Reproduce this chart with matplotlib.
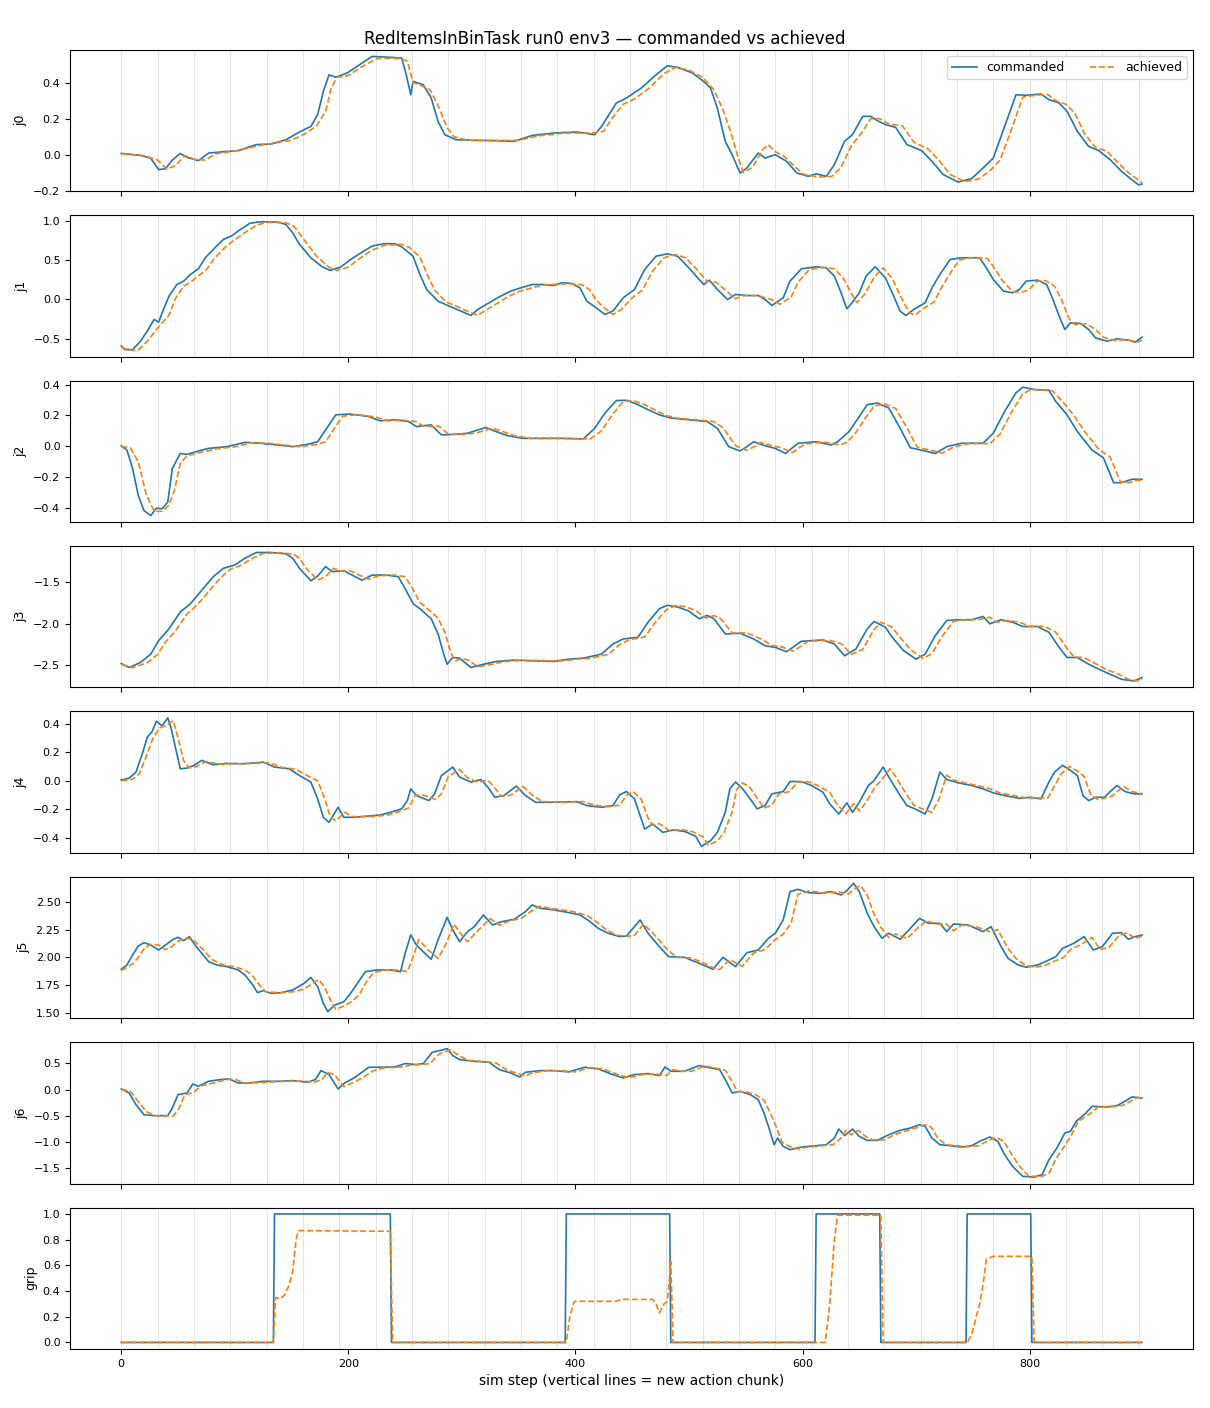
import matplotlib
matplotlib.use("Agg")
import matplotlib.pyplot as plt

# (step, value) pairs, commanded vs achieved per joint
j0_cmd = [(0,0.007),(17,-0.004),(26,-0.02),(33,-0.083),(39,-0.078),(45,-0.03),(52,0.007),(58,-0.015),(68,-0.033),(77,0.009),
          (93,0.018),(103,0.022),(119,0.056),(132,0.059),(145,0.083),(157,0.126),(167,0.157),(173,0.222),(178,0.352),(183,0.444),
          (189,0.43),(199,0.454),(209,0.496),(221,0.546),(237,0.541),(247,0.537),(251,0.444),(255,0.333),(257,0.407),(266,0.389),
          (273,0.315),(279,0.185),(285,0.111),(295,0.083),(311,0.08),(330,0.078),(346,0.074),(362,0.107),(381,0.12),(401,0.126),
          (417,0.111),(423,0.157),(436,0.287),(445,0.315),(458,0.37),(471,0.444),(481,0.494),(490,0.485),(503,0.454),(513,0.407),
          (519,0.37),(525,0.259),(532,0.074),(538,0.0),(545,-0.102),(551,-0.074),(561,0.009),(567,-0.019),(576,0.0),(586,-0.037),
          (595,-0.102),(605,-0.12),(612,-0.107),(621,-0.12),(628,-0.056),(637,0.074),(644,0.111),(653,0.213),(660,0.213),(666,0.189),
          (673,0.167),(682,0.152),(692,0.056),(705,0.022),(714,-0.037),(724,-0.111),(737,-0.152),(749,-0.133),(759,-0.074),(768,-0.019),
          (778,0.157),(788,0.333),(797,0.33),(810,0.337),(817,0.306),(826,0.287),(833,0.241),(842,0.13),(852,0.046),(861,0.022),
          (871,-0.028),(881,-0.093),(890,-0.139),(896,-0.168),(899,-0.163)]
j0_ach = [(0,0.005),(20,-0.005),(32,-0.03),(40,-0.08),(48,-0.06),(56,-0.005),(64,-0.025),(74,-0.03),(83,0.005),(100,0.02),
          (125,0.055),(150,0.08),(163,0.12),(172,0.16),(180,0.24),(185,0.37),(190,0.43),(200,0.44),(212,0.49),(226,0.535),
          (245,0.535),(252,0.52),(257,0.4),(262,0.39),(272,0.36),(280,0.26),(287,0.15),(293,0.1),(305,0.08),(330,0.078),
          (350,0.08),(368,0.105),(390,0.12),(415,0.12),(425,0.13),(432,0.2),(442,0.28),(452,0.31),(465,0.37),(478,0.45),
          (488,0.485),(500,0.47),(512,0.43),(522,0.36),(530,0.25),(537,0.12),(544,-0.03),(548,-0.1),(556,-0.07),(565,0.03),
          (570,0.055),(575,0.02),(584,-0.01),(592,-0.06),(601,-0.11),(615,-0.125),(626,-0.12),(634,-0.07),(643,0.05),(652,0.12),
          (660,0.2),(668,0.2),(676,0.17),(688,0.16),(698,0.07),(711,0.03),(720,-0.03),(730,-0.11),(743,-0.15),(755,-0.135),
          (765,-0.09),(774,-0.03),(784,0.14),(794,0.32),(805,0.33),(816,0.335),(823,0.3),(832,0.28),(840,0.23),(848,0.12),
          (858,0.04),(868,0.02),(877,-0.04),(887,-0.1),(899,-0.155)]

j1_cmd = [(0,-0.59),(3,-0.636),(10,-0.636),(17,-0.53),(23,-0.40),(29,-0.254),(33,-0.288),(36,-0.17),(42,0.04),(49,0.19),
          (55,0.233),(61,0.318),(68,0.39),(74,0.53),(84,0.678),(90,0.763),(97,0.805),(103,0.869),(113,0.966),(122,0.987),
          (138,0.983),(145,0.953),(151,0.847),(157,0.70),(167,0.53),(177,0.415),(184,0.369),(193,0.41),(202,0.508),(212,0.60),
          (221,0.678),(231,0.708),(241,0.708),(247,0.669),(257,0.55),(263,0.318),(269,0.127),(279,-0.021),(289,-0.085),(298,-0.14),
          (308,-0.203),(314,-0.127),(324,-0.042),(333,0.034),(343,0.106),(352,0.148),(362,0.19),(372,0.19),(381,0.178),(388,0.212),
          (397,0.203),(404,0.148),(410,-0.021),(417,-0.093),(426,-0.19),(433,-0.148),(442,0.021),(452,0.127),(461,0.38),(471,0.55),
          (481,0.58),(490,0.55),(500,0.40),(509,0.254),(513,0.19),(518,0.246),(525,0.127),(534,0.0),(541,0.064),(551,0.05),
          (561,0.05),(567,0.0),(573,-0.076),(583,0.021),(589,0.233),(599,0.39),(612,0.415),(621,0.40),(628,0.297),(634,0.085),
          (639,-0.119),(644,-0.034),(650,0.085),(656,0.297),(664,0.415),(673,0.275),(679,0.085),(686,-0.148),(691,-0.203),(698,-0.127),
          (708,-0.042),(714,0.148),(721,0.318),(730,0.508),(740,0.53),(756,0.53),(762,0.40),(768,0.254),(777,0.106),(785,0.085),
          (791,0.127),(797,0.233),(807,0.246),(815,0.19),(820,0.021),(826,-0.212),(831,-0.381),(836,-0.297),(845,-0.305),(852,-0.381),
          (858,-0.487),(868,-0.53),(877,-0.50),(887,-0.517),(893,-0.542),(899,-0.479)]
j1_ach = [(0,-0.6),(6,-0.645),(15,-0.64),(23,-0.53),(30,-0.40),(37,-0.28),(42,-0.2),(48,0.02),(55,0.17),(62,0.23),
          (68,0.3),(75,0.38),(82,0.52),(92,0.67),(100,0.76),(110,0.86),(120,0.95),(130,0.98),(145,0.975),(152,0.93),
          (160,0.78),(172,0.55),(183,0.41),(190,0.37),(200,0.41),(208,0.5),(220,0.62),(232,0.69),(247,0.7),(254,0.66),
          (263,0.54),(270,0.3),(276,0.12),(286,-0.03),(296,-0.09),(305,-0.15),(314,-0.2),(322,-0.13),(331,-0.05),(340,0.03),
          (350,0.1),(360,0.14),(370,0.18),(380,0.19),(394,0.2),(405,0.19),(412,0.13),(418,0.0),(424,-0.09),(433,-0.19),
          (440,-0.13),(450,0.02),(459,0.12),(468,0.36),(478,0.53),(488,0.57),(497,0.53),(507,0.38),(516,0.23),(524,0.22),
          (532,0.12),(541,0.01),(548,0.05),(560,0.05),(573,0.0),(580,-0.06),(590,0.03),(596,0.22),(606,0.38),(618,0.41),
          (628,0.39),(636,0.27),(644,0.05),(648,-0.04),(655,0.07),(663,0.28),(671,0.4),(679,0.27),(686,0.05),(694,-0.17),
          (699,-0.2),(706,-0.12),(716,-0.03),(722,0.14),(729,0.31),(738,0.5),(748,0.53),(763,0.52),(770,0.38),(776,0.24),
          (785,0.1),(793,0.09),(800,0.13),(806,0.23),(814,0.24),(822,0.17),(828,0.0),(835,-0.25),(840,-0.32),(850,-0.31),
          (858,-0.38),(865,-0.48),(875,-0.52),(885,-0.51),(895,-0.54),(899,-0.52)]

j2_cmd = [(0,0.004),(5,-0.024),(10,-0.143),(15,-0.317),(20,-0.415),(26,-0.448),(31,-0.40),(36,-0.404),(41,-0.36),(45,-0.143),
          (52,-0.046),(58,-0.052),(68,-0.03),(77,-0.013),(93,-0.002),(109,0.026),(122,0.02),(138,0.009),(151,-0.002),(164,0.013),
          (173,0.03),(183,0.139),(189,0.204),(202,0.209),(218,0.193),(228,0.165),(241,0.172),(253,0.161),(260,0.128),(273,0.139),
          (282,0.074),(295,0.078),(305,0.085),(321,0.122),(330,0.096),(340,0.07),(353,0.052),(369,0.052),(388,0.052),(407,0.048),
          (417,0.117),(426,0.215),(436,0.296),(445,0.298),(455,0.27),(464,0.237),(474,0.204),(484,0.183),(500,0.172),(516,0.161),
          (525,0.117),(535,-0.002),(545,-0.03),(551,-0.002),(557,0.03),(567,0.004),(576,-0.013),(585,-0.046),(596,0.02),(612,0.03),
          (625,0.009),(631,0.03),(641,0.096),(650,0.193),(657,0.27),(666,0.28),(676,0.248),(686,0.117),(695,-0.009),(708,-0.03),
          (717,-0.046),(727,-0.002),(740,0.02),(759,0.02),(768,0.085),(778,0.226),(788,0.346),(794,0.383),(804,0.367),(817,0.363),
          (823,0.291),(833,0.204),(842,0.096),(855,-0.024),(865,-0.074),(874,-0.235),(881,-0.235),(890,-0.213),(899,-0.213)]
j2_ach = [(0,0.0),(8,-0.01),(15,-0.1),(22,-0.31),(29,-0.42),(36,-0.42),(42,-0.38),(47,-0.28),(52,-0.11),(58,-0.06),
          (72,-0.035),(85,-0.015),(100,-0.003),(115,0.024),(130,0.02),(145,0.007),(158,-0.002),(172,0.012),(180,0.03),(188,0.12),
          (195,0.195),(208,0.205),(224,0.19),(235,0.165),(248,0.17),(260,0.16),(266,0.13),(280,0.13),(288,0.08),(301,0.078),
          (312,0.085),(327,0.118),(336,0.096),(346,0.07),(360,0.052),(390,0.05),(413,0.048),(423,0.1),(432,0.2),(442,0.29),
          (451,0.295),(461,0.27),(470,0.235),(480,0.2),(490,0.182),(506,0.172),(522,0.16),(530,0.12),(541,0.005),(550,-0.025),
          (557,-0.005),(563,0.025),(573,0.005),(582,-0.01),(591,-0.04),(602,0.015),(618,0.028),(633,0.01),(639,0.025),(647,0.09),
          (656,0.19),(663,0.26),(672,0.275),(682,0.245),(692,0.12),(701,-0.005),(714,-0.028),(723,-0.043),(733,-0.005),(746,0.018),
          (765,0.018),(774,0.08),(784,0.22),(794,0.34),(802,0.37),(820,0.36),(829,0.29),(839,0.2),(848,0.1),(861,-0.02),
          (871,-0.07),(880,-0.23),(887,-0.235),(895,-0.22),(899,-0.22)]

j3_cmd = [(0,-2.48),(7,-2.528),(17,-2.467),(26,-2.366),(33,-2.203),(42,-2.061),(52,-1.858),(61,-1.756),(71,-1.593),(81,-1.431),
          (90,-1.329),(100,-1.289),(109,-1.207),(119,-1.138),(132,-1.138),(145,-1.154),(151,-1.207),(157,-1.329),(167,-1.48),(173,-1.423),
          (180,-1.309),(186,-1.37),(196,-1.358),(205,-1.423),(212,-1.472),(221,-1.411),(234,-1.411),(244,-1.431),(250,-1.573),(257,-1.756),
          (263,-1.817),(273,-1.939),(279,-2.122),(284,-2.366),(287,-2.488),(292,-2.407),(298,-2.415),(308,-2.528),(317,-2.496),(330,-2.455),
          (346,-2.439),(362,-2.447),(381,-2.455),(394,-2.427),(407,-2.415),(423,-2.366),(433,-2.244),(442,-2.183),(455,-2.163),(464,-1.98),
          (474,-1.817),(481,-1.776),(490,-1.797),(500,-1.846),(509,-1.939),(516,-1.898),(522,-1.939),(532,-2.122),(545,-2.114),(557,-2.183),
          (567,-2.264),(576,-2.285),(586,-2.337),(599,-2.211),(618,-2.195),(628,-2.244),(637,-2.386),(647,-2.305),(657,-2.061),(663,-1.972),
          (673,-2.041),(679,-2.163),(689,-2.325),(700,-2.427),(708,-2.366),(717,-2.142),(727,-1.959),(737,-1.951),(749,-1.951),(759,-1.911),
          (765,-2.0),(775,-1.951),(785,-1.98),(794,-2.033),(807,-2.033),(817,-2.102),(826,-2.285),(833,-2.407),(842,-2.407),(852,-2.488),
          (861,-2.549),(871,-2.61),(881,-2.671),(892,-2.691),(899,-2.65)]
j3_ach = [(0,-2.49),(10,-2.53),(23,-2.47),(32,-2.37),(39,-2.22),(48,-2.08),(58,-1.88),(67,-1.77),(77,-1.61),(87,-1.45),
          (96,-1.34),(106,-1.29),(115,-1.21),(125,-1.15),(140,-1.14),(152,-1.16),(157,-1.21),(163,-1.33),(173,-1.47),(180,-1.43),
          (187,-1.33),(193,-1.36),(202,-1.36),(211,-1.42),(218,-1.46),(227,-1.42),(240,-1.41),(250,-1.43),(256,-1.56),(263,-1.74),
          (269,-1.81),(279,-1.93),(285,-2.1),(290,-2.34),(294,-2.45),(300,-2.42),(306,-2.44),(314,-2.52),(323,-2.5),(336,-2.46),
          (352,-2.44),(368,-2.445),(387,-2.45),(400,-2.43),(413,-2.415),(429,-2.37),(439,-2.25),(448,-2.19),(461,-2.16),(470,-1.99),
          (480,-1.83),(488,-1.78),(496,-1.79),(506,-1.84),(515,-1.93),(522,-1.9),(528,-1.94),(538,-2.11),(551,-2.11),(563,-2.18),
          (573,-2.26),(582,-2.28),(592,-2.33),(605,-2.21),(624,-2.2),(634,-2.24),(643,-2.37),(653,-2.31),(663,-2.07),(669,-1.98),
          (679,-2.04),(685,-2.15),(695,-2.31),(706,-2.42),(714,-2.36),(723,-2.15),(733,-1.97),(743,-1.95),(755,-1.95),(765,-1.92),
          (771,-1.98),(781,-1.96),(791,-1.98),(800,-2.03),(813,-2.03),(823,-2.1),(832,-2.28),(839,-2.4),(848,-2.41),(858,-2.48),
          (867,-2.55),(877,-2.6),(887,-2.67),(895,-2.69),(899,-2.67)]

j4_cmd = [(0,0.005),(7,0.019),(13,0.061),(19,0.20),(23,0.306),(27,0.342),(31,0.416),(36,0.384),(41,0.44),(44,0.365),
          (49,0.189),(52,0.084),(58,0.089),(64,0.108),(71,0.143),(81,0.112),(93,0.122),(106,0.119),(119,0.126),(125,0.131),
          (135,0.096),(148,0.084),(157,0.037),(167,-0.009),(173,-0.126),(178,-0.255),(183,-0.29),(191,-0.185),(196,-0.255),(205,-0.255),
          (215,-0.248),(228,-0.239),(237,-0.22),(247,-0.196),(252,-0.138),(255,-0.056),(260,-0.103),(271,-0.138),(276,-0.091),(282,0.037),
          (292,0.096),(298,0.026),(308,-0.009),(317,0.009),(324,-0.056),(329,-0.115),(337,-0.103),(348,-0.037),(356,-0.103),(365,-0.15),
          (381,-0.15),(401,-0.145),(410,-0.173),(423,-0.185),(433,-0.173),(439,-0.098),(445,-0.075),(452,-0.126),(458,-0.267),(461,-0.337),
          (468,-0.302),(477,-0.36),(487,-0.342),(497,-0.356),(506,-0.388),(511,-0.458),(519,-0.419),(525,-0.36),(532,-0.22),(536,-0.056),
          (541,-0.009),(546,-0.044),(554,-0.126),(560,-0.196),(567,-0.173),(573,-0.091),(583,-0.075),(589,-0.005),(599,-0.005),(608,-0.033),
          (618,-0.08),(624,-0.161),(632,-0.232),(639,-0.154),(644,-0.22),(650,-0.15),(658,-0.033),(663,0.002),(671,0.096),(676,0.026),
          (686,-0.103),(692,-0.173),(699,-0.196),(708,-0.232),(714,-0.126),(721,0.061),(727,0.009),(737,-0.014),(749,-0.033),(759,-0.056),
          (768,-0.084),(778,-0.103),(791,-0.122),(801,-0.115),(810,-0.126),(817,-0.009),(822,0.061),(829,0.108),(836,0.073),(842,0.037),
          (847,-0.103),(852,-0.138),(858,-0.115),(866,-0.115),(871,-0.075),(877,-0.033),(884,-0.075),(892,-0.091),(899,-0.091)]
j4_ach = [(0,0.0),(10,0.01),(16,0.05),(22,0.17),(28,0.3),(34,0.37),(40,0.39),(46,0.42),(50,0.3),(55,0.14),
          (60,0.09),(66,0.1),(75,0.135),(87,0.115),(100,0.12),(112,0.12),(125,0.125),(131,0.125),(141,0.095),(154,0.08),
          (163,0.04),(173,0.0),(179,-0.12),(184,-0.25),(189,-0.28),(197,-0.22),(203,-0.25),(220,-0.25),(234,-0.24),(243,-0.22),
          (253,-0.19),(259,-0.1),(266,-0.1),(277,-0.13),(282,-0.09),(288,0.03),(298,0.08),(305,0.02),(314,-0.01),(323,0.005),
          (330,-0.06),(335,-0.11),(343,-0.1),(354,-0.04),(362,-0.1),(371,-0.145),(390,-0.15),(407,-0.145),(416,-0.17),(430,-0.18),
          (439,-0.17),(445,-0.1),(451,-0.075),(458,-0.13),(464,-0.26),(468,-0.31),(474,-0.3),(483,-0.35),(493,-0.34),(503,-0.355),
          (512,-0.39),(517,-0.45),(525,-0.42),(531,-0.36),(538,-0.22),(542,-0.06),(547,-0.015),(553,-0.04),(560,-0.12),(566,-0.19),
          (573,-0.17),(579,-0.09),(589,-0.075),(595,-0.01),(605,-0.005),(614,-0.035),(624,-0.08),(630,-0.16),(638,-0.23),(645,-0.16),
          (650,-0.21),(656,-0.15),(664,-0.04),(669,0.0),(677,0.085),(682,0.03),(692,-0.1),(698,-0.17),(705,-0.195),(714,-0.22),
          (720,-0.13),(727,0.04),(733,0.005),(743,-0.015),(755,-0.035),(765,-0.055),(774,-0.085),(784,-0.1),(797,-0.12),(816,-0.12),
          (823,-0.02),(828,0.05),(835,0.1),(842,0.07),(848,0.03),(854,-0.1),(860,-0.13),(872,-0.11),(877,-0.075),(883,-0.04),
          (890,-0.075),(899,-0.09)]

j5_cmd = [(0,1.892),(5,1.931),(10,2.021),(15,2.102),(20,2.133),(26,2.111),(33,2.066),(39,2.111),(45,2.157),(50,2.181),
          (55,2.151),(60,2.187),(65,2.111),(71,2.036),(77,1.961),(84,1.931),(93,1.916),(103,1.886),(109,1.84),(116,1.75),
          (120,1.681),(125,1.699),(132,1.675),(141,1.681),(151,1.705),(161,1.765),(167,1.819),(173,1.735),(178,1.584),(182,1.509),
          (188,1.569),(196,1.599),(202,1.675),(209,1.78),(215,1.87),(225,1.886),(237,1.886),(246,1.87),(250,2.036),(255,2.202),
          (260,2.111),(266,2.051),(273,1.982),(279,2.157),(287,2.361),(292,2.247),(298,2.142),(305,2.232),(311,2.277),(319,2.383),
          (327,2.292),(335,2.322),(346,2.343),(356,2.413),(362,2.473),(369,2.443),(381,2.428),(394,2.404),(404,2.383),(413,2.322),
          (420,2.262),(429,2.217),(439,2.187),(445,2.193),(452,2.277),(457,2.337),(464,2.217),(474,2.096),(482,2.006),(496,2.0),
          (509,1.946),(516,1.916),(521,1.892),(530,2.0),(535,1.961),(541,1.916),(551,2.042),(561,2.066),(570,2.172),(576,2.217),
          (583,2.337),(589,2.593),(596,2.614),(605,2.584),(615,2.578),(625,2.593),(634,2.563),(639,2.602),(645,2.669),(650,2.593),
          (657,2.398),(663,2.277),(670,2.172),(676,2.217),(686,2.163),(695,2.262),(703,2.352),(711,2.307),(721,2.307),(727,2.232),
          (733,2.301),(746,2.292),(759,2.232),(766,2.277),(775,2.096),(781,1.991),(790,1.931),(797,1.91),(807,1.931),(817,1.976),
          (823,2.006),(829,2.081),(839,2.127),(848,2.187),(856,2.066),(864,2.096),(873,2.217),(881,2.223),(887,2.163),(893,2.187),
          (899,2.202)]
j5_ach = [(0,1.88),(10,1.94),(15,2.0),(21,2.09),(27,2.12),(33,2.11),(39,2.07),(45,2.1),(51,2.15),(56,2.17),
          (62,2.17),(67,2.12),(73,2.06),(80,1.98),(90,1.93),(100,1.915),(109,1.885),(115,1.84),(121,1.76),(127,1.69),
          (140,1.68),(152,1.69),(160,1.71),(168,1.76),(174,1.8),(179,1.73),(185,1.6),(189,1.53),(196,1.56),(203,1.6),
          (210,1.67),(216,1.78),(222,1.86),(232,1.885),(245,1.885),(252,1.87),(258,2.03),(262,2.16),(270,2.07),(279,1.99),
          (286,2.12),(293,2.3),(300,2.2),(305,2.14),(312,2.22),(320,2.3),(325,2.35),(333,2.29),(342,2.33),(352,2.35),
          (360,2.41),(368,2.46),(380,2.44),(395,2.42),(410,2.38),(420,2.31),(427,2.25),(436,2.2),(446,2.19),(452,2.2),
          (460,2.3),(470,2.2),(480,2.08),(489,2.0),(502,1.995),(515,1.94),(522,1.9),(527,1.89),(536,1.98),(541,1.95),
          (547,1.92),(557,2.04),(567,2.07),(576,2.16),(583,2.21),(590,2.31),(596,2.57),(606,2.6),(620,2.58),(632,2.59),
          (640,2.57),(645,2.61),(651,2.65),(657,2.56),(663,2.39),(669,2.27),(676,2.18),(682,2.21),(692,2.17),(701,2.26),
          (709,2.33),(718,2.3),(727,2.3),(733,2.24),(740,2.29),(752,2.28),(765,2.23),(772,2.25),(781,2.08),(788,1.99),
          (796,1.93),(805,1.91),(814,1.93),(823,1.97),(830,2.0),(836,2.07),(846,2.12),(855,2.18),(862,2.07),(870,2.09),
          (879,2.2),(886,2.22),(893,2.17),(899,2.19)]

j6_cmd = [(0,0.013),(7,-0.064),(13,-0.287),(20,-0.478),(29,-0.497),(41,-0.497),(45,-0.35),(50,-0.096),(58,-0.064),(63,0.108),
          (68,0.064),(77,0.159),(87,0.191),(95,0.204),(103,0.127),(113,0.127),(125,0.159),(138,0.159),(151,0.172),(164,0.14),
          (171,0.191),(176,0.363),(183,0.287),(191,0.013),(196,0.115),(205,0.223),(212,0.331),(218,0.427),(228,0.427),(241,0.433),
          (250,0.497),(260,0.478),(266,0.497),(274,0.713),(282,0.752),(287,0.783),(292,0.65),(298,0.573),(311,0.541),(324,0.522),
          (333,0.382),(343,0.318),(351,0.242),(356,0.331),(369,0.363),(381,0.363),(394,0.338),(408,0.427),(420,0.395),(433,0.287),
          (442,0.223),(452,0.287),(464,0.306),(474,0.268),(479,0.433),(484,0.35),(496,0.35),(509,0.459),(519,0.414),(527,0.382),
          (532,0.191),(538,-0.064),(545,-0.032),(554,-0.096),(561,-0.191),(566,-0.446),(570,-0.70),(575,-1.051),(578,-0.924),(583,-1.083),
          (589,-1.146),(599,-1.096),(612,-1.07),(621,-1.051),(628,-0.924),(632,-0.752),(637,-0.879),(644,-0.752),(650,-0.892),(657,-0.968),
          (666,-0.968),(676,-0.86),(686,-0.777),(695,-0.732),(703,-0.669),(708,-0.70),(714,-0.924),(721,-1.051),(730,-1.07),(740,-1.096),
          (749,-1.07),(756,-0.987),(765,-0.904),(772,-0.987),(778,-1.242),(785,-1.465),(794,-1.656),(804,-1.669),(811,-1.624),(817,-1.338),
          (824,-1.115),(831,-0.828),(836,-0.796),(841,-0.605),(849,-0.459),(855,-0.318),(868,-0.331),(877,-0.306),(884,-0.223),(890,-0.14),
          (899,-0.159)]
j6_ach = [(0,0.01),(8,-0.03),(14,-0.2),(22,-0.42),(30,-0.5),(46,-0.5),(51,-0.35),(56,-0.1),(64,-0.05),(70,0.07),
          (80,0.12),(92,0.19),(100,0.2),(108,0.13),(120,0.13),(140,0.155),(160,0.165),(170,0.14),(177,0.2),(182,0.33),
          (188,0.28),(196,0.06),(203,0.12),(212,0.22),(222,0.36),(232,0.42),(246,0.43),(256,0.47),(266,0.48),(272,0.5),
          (280,0.68),(290,0.76),(298,0.64),(306,0.56),(318,0.535),(330,0.51),(340,0.37),(349,0.31),(356,0.26),(362,0.32),
          (375,0.36),(387,0.36),(400,0.34),(413,0.42),(425,0.39),(438,0.28),(447,0.23),(457,0.28),(470,0.3),(480,0.27),
          (486,0.38),(494,0.35),(502,0.35),(514,0.45),(524,0.41),(532,0.37),(537,0.19),(543,-0.04),(550,-0.04),(559,-0.1),
          (566,-0.2),(572,-0.46),(577,-0.72),(582,-1.0),(588,-1.08),(595,-1.13),(605,-1.1),(618,-1.07),(627,-1.05),(634,-0.92),
          (638,-0.78),(643,-0.86),(649,-0.78),(656,-0.9),(662,-0.96),(672,-0.96),(681,-0.86),(692,-0.78),(700,-0.73),(708,-0.67),
          (713,-0.71),(719,-0.92),(726,-1.05),(735,-1.07),(746,-1.09),(755,-1.07),(762,-0.99),(770,-0.91),(777,-0.98),(784,-1.23),
          (791,-1.46),(799,-1.65),(810,-1.66),(817,-1.6),(823,-1.33),(830,-1.1),(837,-0.86),(843,-0.6),(854,-0.45),(861,-0.32),
          (872,-0.33),(882,-0.3),(889,-0.22),(895,-0.15),(899,-0.16)]

grip_cmd = [(0,0),(134,0),(135,1),(237,1),(238,0),(391,0),(392,1),(483,1),(484,0),(611,0),
            (612,1),(668,1),(669,0),(744,0),(745,1),(801,1),(802,0),(899,0)]
grip_ach = [(0,0),(134,0),(136,0.35),(140,0.34),(144,0.37),(148,0.45),(151,0.55),(154,0.8),(156,0.87),(237,0.865),
            (239,0),(392,0),(395,0.2),(399,0.32),(436,0.32),(440,0.335),(468,0.335),(471,0.3),(474,0.23),(478,0.3),
            (481,0.32),(484,0.63),(486,0),(620,0),(624,0.3),(628,0.8),(631,0.99),(669,0.99),(671,0),(745,0),
            (749,0.06),(753,0.2),(756,0.3),(759,0.45),(762,0.65),(768,0.67),(802,0.67),(804,0),(899,0)]

joint_names = ["j0", "j1", "j2", "j3", "j4", "j5", "j6", "grip"]
commanded = [j0_cmd, j1_cmd, j2_cmd, j3_cmd, j4_cmd, j5_cmd, j6_cmd, grip_cmd]
achieved = [j0_ach, j1_ach, j2_ach, j3_ach, j4_ach, j5_ach, j6_ach, grip_ach]
chunk_size = 32
n_steps = 900

fig, axes = plt.subplots(8, 1, figsize=(12.1, 14.08), dpi=100, sharex=True)
fig.subplots_adjust(left=0.058, right=0.986, top=0.9645, bottom=0.042, hspace=0.17)

for ax, name, cmd, ach in zip(axes, joint_names, commanded, achieved):
    # one faint line per new action chunk
    for s in range(0, n_steps, chunk_size):
        ax.axvline(s, color="gray", alpha=0.3, linewidth=0.5)
    ax.plot([p[0] for p in cmd], [p[1] for p in cmd], color="C0", linewidth=1.2, label="commanded")
    ax.plot([p[0] for p in ach], [p[1] for p in ach], color="C1", linewidth=1.2, linestyle="--", label="achieved")
    ax.set_ylabel(name, fontsize=9)
    ax.tick_params(labelsize=8)

axes[0].legend(loc="upper right", ncol=2, fontsize=9)
axes[-1].set_xlabel("sim step (vertical lines = new action chunk)", fontsize=10)
fig.suptitle("RedItemsInBinTask run0 env3 \u2014 commanded vs achieved", fontsize=12, y=0.979)

plt.savefig("out.png", dpi=100)
